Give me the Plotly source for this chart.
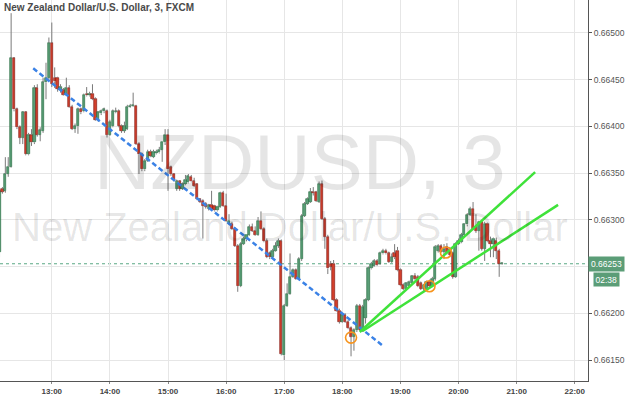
import pandas as pd
import plotly.graph_objects as go

# ---- data (3-minute NZDUSD bars) ----
start_time = "2015-06-01 12:06"
opens = [0.66266,0.66333,0.66331,0.66349,0.66357,0.66473,0.66418,0.66399,0.66388,0.66415,
 0.66370,0.66391,0.66383,0.66441,0.66391,0.66395,0.66447,0.66452,0.66489,0.66452,
 0.66452,0.66439,0.66439,0.66434,0.66441,0.66421,0.66397,0.66400,0.66418,0.66416,
 0.66435,0.66433,0.66435,0.66429,0.66407,0.66414,0.66416,0.66416,0.66391,0.66400,
 0.66415,0.66416,0.66400,0.66395,0.66397,0.66421,0.66422,0.66422,0.66381,0.66370,
 0.66354,0.66363,0.66373,0.66367,0.66371,0.66372,0.66375,0.66383,0.66391,0.66356,
 0.66349,0.66333,0.66341,0.66333,0.66338,0.66340,0.66346,0.66341,0.66338,0.66322,
 0.66320,0.66317,0.66312,0.66316,0.66315,0.66310,0.66314,0.66329,0.66315,0.66296,
 0.66296,0.66290,0.66272,0.66229,0.66274,0.66279,0.66284,0.66292,0.66288,0.66284,
 0.66299,0.66290,0.66277,0.66264,0.66260,0.66267,0.66272,0.66277,0.66155,0.66208,
 0.66221,0.66239,0.66246,0.66237,0.66258,0.66304,0.66317,0.66319,0.66330,0.66330,
 0.66319,0.66338,0.66301,0.66282,0.66253,0.66253,0.66214,0.66203,0.66191,0.66198,
 0.66191,0.66184,0.66175,0.66182,0.66208,0.66182,0.66195,0.66214,0.66248,0.66251,
 0.66256,0.66253,0.66264,0.66267,0.66264,0.66255,0.66264,0.66267,0.66246,0.66230,
 0.66226,0.66229,0.66232,0.66240,0.66239,0.66232,0.66226,0.66226,0.66234,0.66229,
 0.66237,0.66267,0.66272,0.66266,0.66271,0.66269,0.66264,0.66239,0.66274,0.66276,
 0.66284,0.66295,0.66305,0.66312,0.66292,0.66288,0.66298,0.66269,0.66296,0.66277,
 0.66274,0.66277,0.66267,0.66253]
highs = [0.66333,0.66335,0.66367,0.66367,0.66521,0.66474,0.66420,0.66401,0.66416,0.66416,
 0.66393,0.66397,0.66444,0.66445,0.66399,0.66452,0.66468,0.66495,0.66511,0.66463,
 0.66453,0.66445,0.66441,0.66452,0.66444,0.66423,0.66403,0.66420,0.66420,0.66435,
 0.66442,0.66437,0.66445,0.66431,0.66416,0.66418,0.66420,0.66418,0.66407,0.66418,
 0.66420,0.66418,0.66402,0.66405,0.66423,0.66424,0.66436,0.66423,0.66383,0.66372,
 0.66365,0.66375,0.66375,0.66375,0.66375,0.66378,0.66383,0.66397,0.66397,0.66358,
 0.66350,0.66343,0.66342,0.66340,0.66348,0.66349,0.66348,0.66345,0.66339,0.66323,
 0.66322,0.66319,0.66317,0.66331,0.66316,0.66315,0.66330,0.66331,0.66328,0.66306,
 0.66298,0.66292,0.66274,0.66276,0.66282,0.66284,0.66295,0.66296,0.66293,0.66303,
 0.66309,0.66292,0.66280,0.66266,0.66269,0.66276,0.66280,0.66279,0.66210,0.66232,
 0.66264,0.66248,0.66248,0.66260,0.66306,0.66319,0.66324,0.66334,0.66335,0.66331,
 0.66341,0.66342,0.66303,0.66284,0.66256,0.66257,0.66216,0.66205,0.66200,0.66200,
 0.66193,0.66186,0.66184,0.66210,0.66210,0.66209,0.66216,0.66250,0.66255,0.66258,
 0.66258,0.66266,0.66269,0.66269,0.66266,0.66264,0.66274,0.66271,0.66248,0.66232,
 0.66233,0.66235,0.66241,0.66243,0.66241,0.66234,0.66231,0.66235,0.66236,0.66239,
 0.66273,0.66274,0.66274,0.66274,0.66275,0.66271,0.66266,0.66276,0.66280,0.66286,
 0.66296,0.66307,0.66314,0.66319,0.66306,0.66299,0.66300,0.66298,0.66297,0.66282,
 0.66281,0.66281,0.66269,0.66254]
lows = [0.66260,0.66328,0.66329,0.66346,0.66356,0.66416,0.66397,0.66381,0.66381,0.66369,
 0.66369,0.66379,0.66381,0.66389,0.66384,0.66393,0.66429,0.66450,0.66442,0.66441,
 0.66437,0.66436,0.66433,0.66433,0.66420,0.66396,0.66393,0.66392,0.66413,0.66415,
 0.66432,0.66432,0.66428,0.66406,0.66405,0.66412,0.66414,0.66388,0.66390,0.66399,
 0.66414,0.66399,0.66393,0.66393,0.66396,0.66420,0.66421,0.66380,0.66349,0.66352,
 0.66352,0.66362,0.66367,0.66366,0.66370,0.66371,0.66362,0.66380,0.66331,0.66347,
 0.66341,0.66331,0.66331,0.66332,0.66337,0.66339,0.66340,0.66335,0.66321,0.66318,
 0.66280,0.66312,0.66310,0.66310,0.66309,0.66309,0.66313,0.66314,0.66298,0.66295,
 0.66289,0.66271,0.66223,0.66228,0.66273,0.66277,0.66283,0.66287,0.66283,0.66283,
 0.66289,0.66276,0.66259,0.66258,0.66258,0.66266,0.66270,0.66155,0.66150,0.66207,
 0.66220,0.66238,0.66236,0.66236,0.66256,0.66303,0.66316,0.66318,0.66326,0.66319,
 0.66318,0.66300,0.66269,0.66242,0.66246,0.66213,0.66202,0.66189,0.66190,0.66190,
 0.66183,0.66154,0.66160,0.66180,0.66181,0.66180,0.66189,0.66213,0.66247,0.66250,
 0.66251,0.66252,0.66263,0.66263,0.66254,0.66254,0.66258,0.66245,0.66229,0.66225,
 0.66225,0.66228,0.66231,0.66236,0.66228,0.66225,0.66224,0.66225,0.66228,0.66228,
 0.66235,0.66265,0.66265,0.66258,0.66263,0.66260,0.66237,0.66238,0.66273,0.66275,
 0.66283,0.66293,0.66304,0.66289,0.66286,0.66267,0.66267,0.66256,0.66276,0.66260,
 0.66260,0.66258,0.66239,0.66252]
closes = [0.66331,0.66330,0.66349,0.66357,0.66473,0.66418,0.66399,0.66388,0.66415,0.66370,
 0.66391,0.66383,0.66441,0.66391,0.66396,0.66447,0.66452,0.66489,0.66445,0.66448,
 0.66440,0.66442,0.66434,0.66441,0.66421,0.66397,0.66400,0.66418,0.66415,0.66434,
 0.66433,0.66435,0.66429,0.66407,0.66415,0.66416,0.66418,0.66391,0.66405,0.66416,
 0.66416,0.66400,0.66395,0.66400,0.66421,0.66422,0.66423,0.66381,0.66370,0.66354,
 0.66363,0.66373,0.66368,0.66373,0.66373,0.66375,0.66383,0.66391,0.66354,0.66349,
 0.66343,0.66341,0.66333,0.66338,0.66343,0.66347,0.66341,0.66336,0.66322,0.66319,
 0.66315,0.66314,0.66316,0.66312,0.66310,0.66314,0.66329,0.66315,0.66299,0.66299,
 0.66290,0.66272,0.66229,0.66274,0.66280,0.66284,0.66292,0.66288,0.66284,0.66299,
 0.66290,0.66277,0.66260,0.66260,0.66267,0.66272,0.66277,0.66157,0.66208,0.66221,
 0.66239,0.66246,0.66237,0.66258,0.66304,0.66317,0.66322,0.66330,0.66329,0.66320,
 0.66338,0.66301,0.66282,0.66248,0.66250,0.66214,0.66203,0.66191,0.66198,0.66191,
 0.66184,0.66175,0.66182,0.66208,0.66182,0.66207,0.66214,0.66248,0.66253,0.66256,
 0.66252,0.66264,0.66267,0.66264,0.66255,0.66260,0.66260,0.66246,0.66230,0.66226,
 0.66232,0.66234,0.66240,0.66237,0.66229,0.66226,0.66230,0.66234,0.66229,0.66237,
 0.66271,0.66272,0.66266,0.66269,0.66264,0.66262,0.66239,0.66274,0.66277,0.66284,
 0.66295,0.66305,0.66312,0.66290,0.66288,0.66298,0.66269,0.66296,0.66277,0.66274,
 0.66280,0.66267,0.66253,0.66253]

last_price = 0.66253
last_price_text = "0.66253"
countdown_text = "02:38"
y_ticks = [0.66150, 0.66200, 0.66250, 0.66300, 0.66350, 0.66400, 0.66450, 0.66500]
# the 0.66250 label sits under the last-price box in the reference
y_tick_text = ["0.66150", "0.66200", "", "0.66300", "0.66350", "0.66400", "0.66450", "0.66500"]

# drawings (time, price anchors)
blue_trend_t = ["2015-06-01 12:40:48", "2015-06-01 18:41:00"]
blue_trend_p = [0.66462, 0.66166]
green_up_t = ["2015-06-01 18:18:00", "2015-06-01 21:19:06"]
green_up_p = [0.66180, 0.66351]
green_lo_t = ["2015-06-01 18:21:00", "2015-06-01 21:42:48"]
green_lo_p = [0.66181, 0.66316]
circle_t = ["2015-06-01 18:09", "2015-06-01 19:30", "2015-06-01 19:47"]
circle_p = [0.66174, 0.66229, 0.66265]

title_text = "New Zealand Dollar/U.S. Dollar, 3, FXCM"
wm_big = "NZDUSD, 3"
wm_small = "New Zealand Dollar/U.S. Dollar"

# ---- build ----
times = pd.date_range(start_time, periods=len(opens), freq="3min")
UP_FILL, UP_LINE = "#5a9e77", "#1c6436"
DN_FILL, DN_LINE = "#d3402c", "#7a120e"

wx, wy = [], []
base, height, fills, lines = [], [], [], []
for t, o, h, l, c in zip(times, opens, highs, lows, closes):
    top, bot = max(o, c), min(o, c)
    wx += [t, t, None, t, t, None]
    wy += [h, top, None, bot, l, None]
    base.append(bot)
    height.append(max(top - bot, 0.000009))
    up = c >= o
    fills.append(UP_FILL if up else DN_FILL)
    lines.append(UP_LINE if up else DN_LINE)

fig = go.Figure()
fig.add_trace(go.Bar(x=times, y=height, base=base, width=140000,
                     marker=dict(color=fills, line=dict(color=lines, width=0.6)),
                     hoverinfo="skip", showlegend=False))
fig.add_trace(go.Scatter(x=wx, y=wy, mode="lines", line=dict(color="#7a7a7a", width=1),
                         hoverinfo="skip", showlegend=False))
fig.add_trace(go.Scatter(x=blue_trend_t, y=blue_trend_p, mode="lines",
                         line=dict(color="#3b82e6", width=2.5, dash="5px,3px"), showlegend=False))
fig.add_trace(go.Scatter(x=green_up_t, y=green_up_p, mode="lines",
                         line=dict(color="#3fe23a", width=2.5), showlegend=False))
fig.add_trace(go.Scatter(x=green_lo_t, y=green_lo_p, mode="lines",
                         line=dict(color="#3fe23a", width=2.5), showlegend=False))
fig.add_trace(go.Scatter(x=circle_t, y=circle_p, mode="markers",
                         marker=dict(symbol="circle-open", size=11, color="#f7941d",
                                     line=dict(width=1.6)), showlegend=False))

fig.add_shape(type="line", xref="paper", x0=0, x1=1, yref="y", y0=last_price, y1=last_price,
              line=dict(color="#5aa884", width=1, dash="dot"), layer="below")

wm_color = "rgba(0,0,0,0.10)"
fig.add_annotation(text=wm_big, xref="paper", yref="paper", x=0.511, y=0.574,
                   xanchor="center", yanchor="middle", showarrow=False,
                   font=dict(family="Liberation Sans, Arial", size=78, color=wm_color))
fig.add_annotation(text=wm_small, xref="paper", yref="paper", x=0.494, y=0.405,
                   xanchor="center", yanchor="middle", showarrow=False,
                   font=dict(family="Liberation Sans, Arial", size=40, color=wm_color))
fig.add_annotation(text=title_text, xref="paper", yref="paper", x=0.004, y=1.0,
                   xanchor="left", yanchor="top", showarrow=False,
                   font=dict(family="Liberation Sans, Arial", size=10, color="#4a4a4a", weight="bold"))
fig.add_annotation(text=last_price_text, xref="paper", yref="y", x=1.0, y=last_price,
                   xanchor="left", yanchor="middle", showarrow=False, bgcolor="#5b9d77",
                   borderpad=2, font=dict(family="Liberation Sans, Arial", size=8.5, color="white"))
fig.add_annotation(text=countdown_text, xref="paper", yref="y", x=1.0, y=last_price,
                   xanchor="left", yanchor="middle", yshift=-16, xshift=5, showarrow=False,
                   bgcolor="#5b9d77", borderpad=1.5,
                   font=dict(family="Liberation Sans, Arial", size=8.5, color="white"))

fig.update_layout(
    width=625, height=396, margin=dict(l=0, r=35, t=0, b=13),
    paper_bgcolor="white", plot_bgcolor="white", bargap=0,
    xaxis=dict(type="date", range=["2015-06-01 12:06:30", "2015-06-01 22:13:42"],
               tick0="2015-06-01 13:00", dtick=3600000, tickformat="%H:%M",
               showgrid=True, gridcolor="#e6e6e6", gridwidth=1,
               showline=True, linecolor="#555555", linewidth=1,
               ticks="outside", ticklen=2, tickcolor="#888888",
               tickfont=dict(family="Liberation Sans, Arial", size=8, color="#444444", weight="bold"),
               zeroline=False, fixedrange=True),
    yaxis=dict(side="right", range=[0.661276, 0.665351], tickvals=y_ticks, ticktext=y_tick_text,
               showgrid=True, gridcolor="#e6e6e6", gridwidth=1,
               showline=True, linecolor="#555555", linewidth=1,
               ticks="outside", ticklen=3, tickcolor="#555555",
               tickfont=dict(family="Liberation Sans, Arial", size=8.5, color="#555555"),
               zeroline=False),
)

fig.write_html("out.html")
